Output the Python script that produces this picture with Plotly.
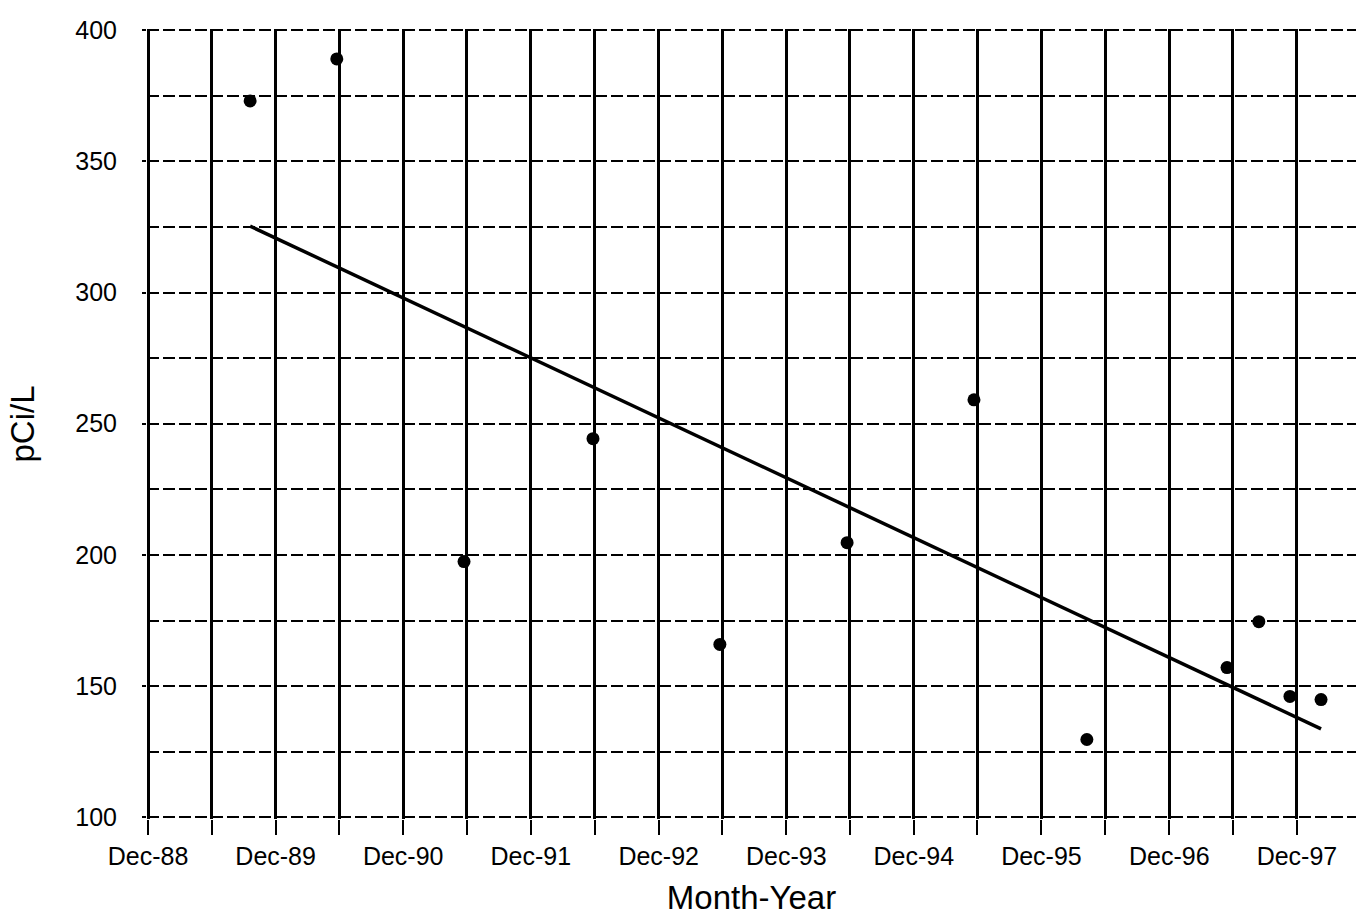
import numpy as np
import pandas as pd
import plotly.graph_objects as go

# Data
sample_dates = ["1989-09-19", "1990-05-25", "1991-05-24", "1992-05-27",
                "1993-05-25", "1994-05-24", "1995-05-22", "1996-04-09",
                "1997-05-15", "1997-08-14", "1997-11-11", "1998-02-08"]
pci_values = [373.0, 389.0, 197.5, 244.3, 165.9, 204.7, 259.1, 129.7,
              157.1, 174.6, 146.1, 144.9]

x_range = ["1988-11-28", "1998-05-19"]
y_range = [99.4, 400.4]

# Linear trend (least squares) computed from the data
t = pd.to_datetime(sample_dates)
days = (t - t[0]).days.values.astype(float)
slope, intercept = np.polyfit(days, np.array(pci_values), 1)
trend_x = [sample_dates[0], sample_dates[-1]]
trend_y = [intercept + slope * days[0], intercept + slope * days[-1]]

fig = go.Figure()
fig.add_trace(go.Scatter(x=trend_x, y=trend_y, mode="lines",
                         line=dict(color="black", width=3.5),
                         showlegend=False, hoverinfo="skip"))
fig.add_trace(go.Scatter(x=sample_dates, y=pci_values, mode="markers",
                         marker=dict(color="black", size=13, symbol="circle"),
                         showlegend=False))

font_family = "Liberation Sans, Arial, sans-serif"
fig.update_layout(
    width=1357, height=924,
    margin=dict(l=147, r=1, t=29, b=105),
    plot_bgcolor="white", paper_bgcolor="white",
    font=dict(family=font_family, color="black", size=25),
)
fig.update_xaxes(
    type="date", range=x_range,
    tick0="1988-12-01", dtick="M12", tickformat="%b-%y",
    ticks="outside", ticklen=15, tickwidth=2, tickcolor="black",
    showgrid=True, gridcolor="black", gridwidth=2.5,
    minor=dict(dtick="M6", tick0="1988-12-01", showgrid=True,
               gridcolor="black", gridwidth=2.5, ticks="outside",
               ticklen=15, tickwidth=2, tickcolor="black"),
    showline=False, zeroline=False,
    tickfont=dict(size=25),
    title=dict(text="Month-Year", font=dict(size=33), standoff=16),
)
fig.update_yaxes(
    range=y_range, dtick=50, tick0=100,
    ticks="outside", ticklen=4, tickwidth=2, tickcolor="black",
    ticklabelstandoff=20,
    showgrid=True, gridcolor="black", gridwidth=1.5, griddash="12px,4px",
    minor=dict(dtick=25, tick0=100, showgrid=True, gridcolor="black",
               gridwidth=1.5, griddash="12px,4px"),
    showline=False, zeroline=False,
    tickfont=dict(size=25),
    title=dict(text="pCi/L", font=dict(size=33), standoff=30),
)

fig.write_html("out.html")
